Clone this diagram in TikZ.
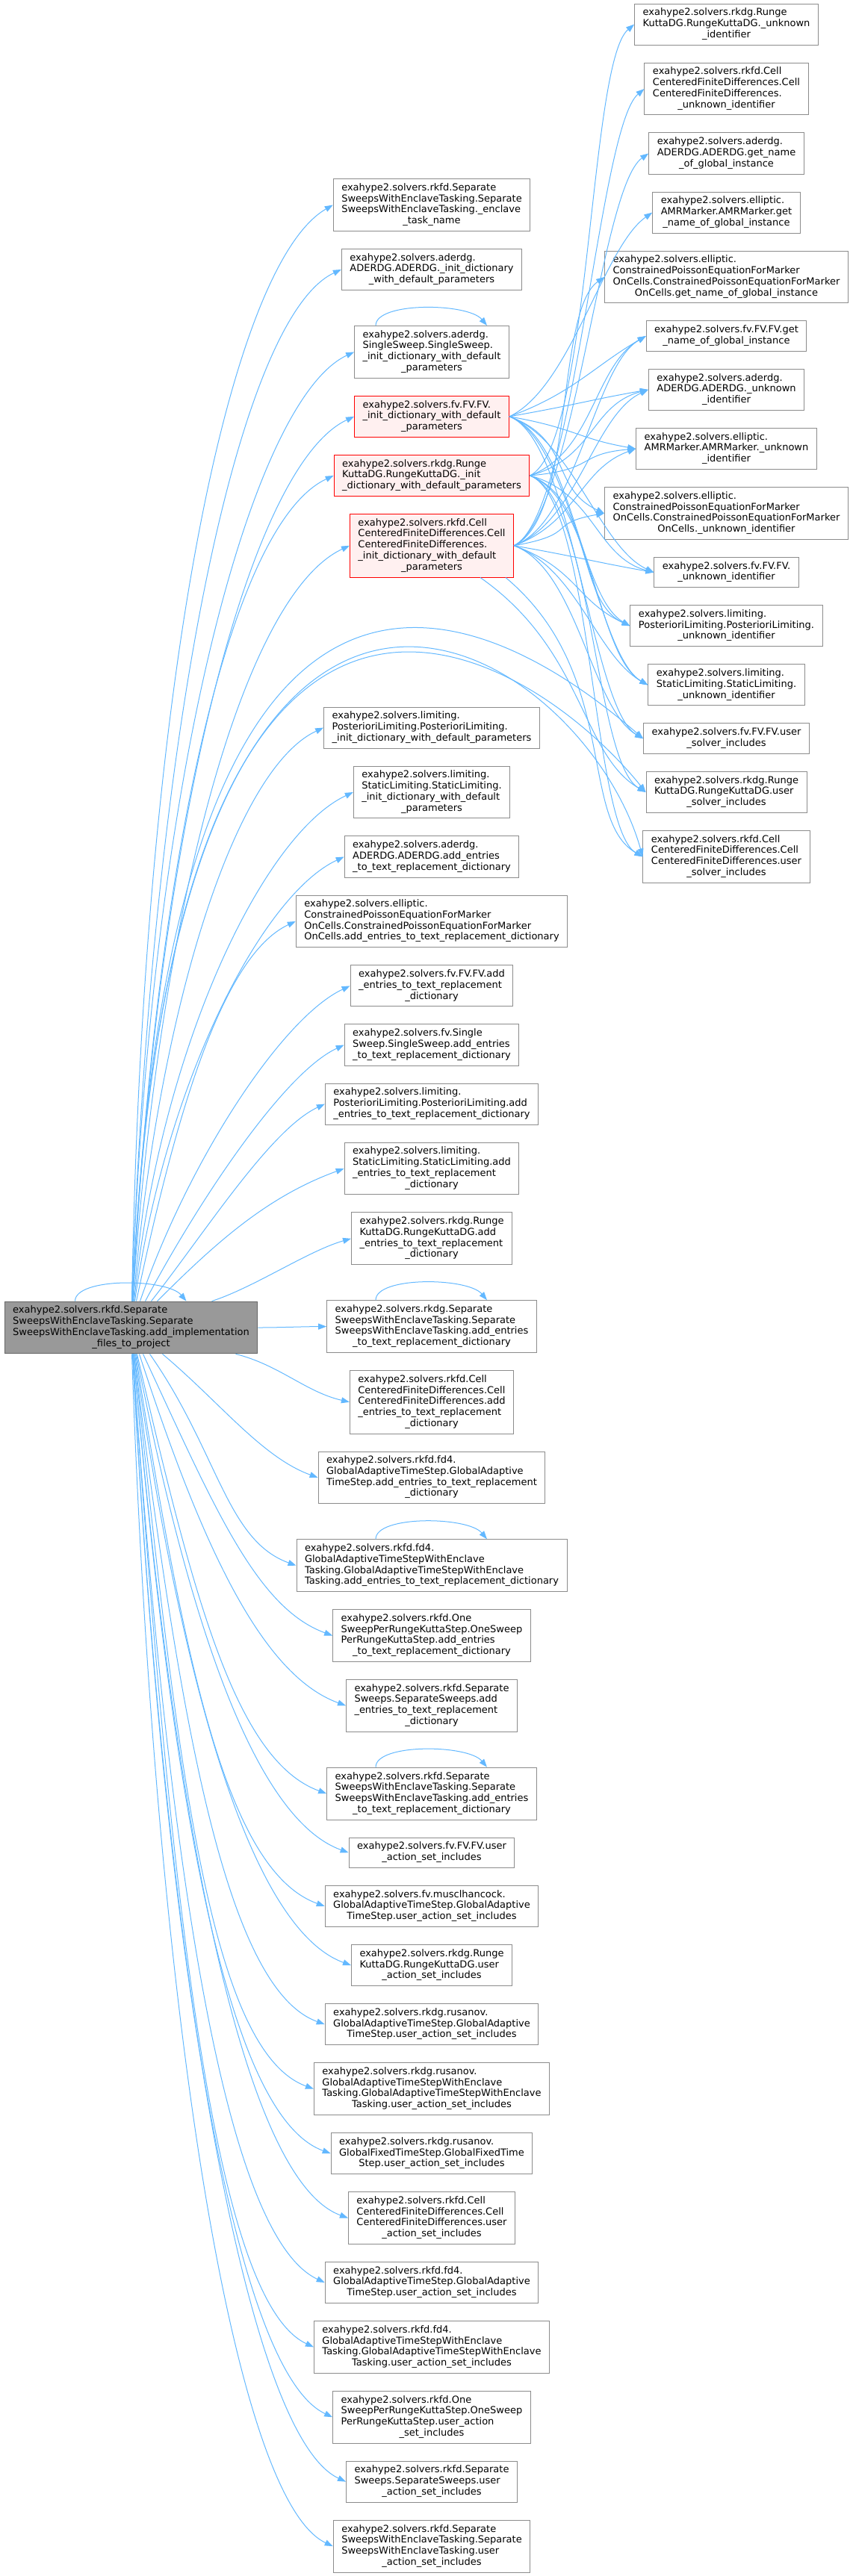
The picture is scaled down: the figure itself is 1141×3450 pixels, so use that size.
\documentclass[tikz,border=0pt]{standalone}
\usepackage{fontspec}
\setmainfont{DejaVu Sans}
\usepackage{tikz}
\usetikzlibrary{arrows.meta,positioning}
\definecolor{edgeblue}{RGB}{99,184,255}
\definecolor{trfill}{RGB}{255,240,240}
\definecolor{rootgray}{RGB}{153,153,153}
\newcommand{\dlbl}[2]{\begin{tabular}{@{}l@{}}#1\\\multicolumn{1}{@{}c@{}}{#2}\end{tabular}}

\begin{document}
\begin{tikzpicture}[x=1pt,y=-1pt,
 font=\fontsize{13}{14.7}\selectfont,
 b/.style={draw=black!45,line width=1pt,fill=white,inner xsep=11pt,inner ysep=0pt},
 tr/.style={b,draw=red,fill=trfill},
 rt/.style={b,draw=black!60,fill=rootgray},
 h2/.style={minimum height=40.4pt},
 h3/.style={minimum height=55.1pt},
 h4/.style={minimum height=69.8pt},
 h5/.style={minimum height=84.5pt},
 ar/.style={-{Triangle[length=11pt,width=8pt]},draw=edgeblue,line width=1pt},
 node distance=23pt]
\useasboundingbox (0,0) rectangle (1141,3450);

\node[rt,h4] (n0) at (175.5,1778) {\dlbl{exahype2.solvers.rkfd.Separate\\SweepsWithEnclaveTasking.Separate\\SweepsWithEnclaveTasking.add\_implementation}{\_files\_to\_project}};

\node[b,h4] (n1) at (578,274.5) {\dlbl{exahype2.solvers.rkfd.Separate\\SweepsWithEnclaveTasking.Separate\\SweepsWithEnclaveTasking.\_enclave}{\_task\_name}};
\node[b,h3,below=of n1] (n2) {\dlbl{exahype2.solvers.aderdg.\\ADERDG.ADERDG.\_init\_dictionary}{\_with\_default\_parameters}};
\node[b,h4,below=47pt of n2] (n3) {\dlbl{exahype2.solvers.aderdg.\\SingleSweep.SingleSweep.\\\_init\_dictionary\_with\_default}{\_parameters}};
\node[tr,h3,below=of n3] (n4) {\dlbl{exahype2.solvers.fv.FV.FV.\\\_init\_dictionary\_with\_default}{\_parameters}};
\node[tr,h3,below=of n4] (n5) {\dlbl{exahype2.solvers.rkdg.Runge\\KuttaDG.RungeKuttaDG.\_init}{\_dictionary\_with\_default\_parameters}};
\node[tr,h5,below=of n5] (n6) {\dlbl{exahype2.solvers.rkfd.Cell\\CenteredFiniteDifferences.Cell\\CenteredFiniteDifferences.\\\_init\_dictionary\_with\_default}{\_parameters}};
\node[b,h3,below=173pt of n6] (n7) {\dlbl{exahype2.solvers.limiting.\\PosterioriLimiting.PosterioriLimiting.}{\_init\_dictionary\_with\_default\_parameters}};
\node[b,h4,below=of n7] (n8) {\dlbl{exahype2.solvers.limiting.\\StaticLimiting.StaticLimiting.\\\_init\_dictionary\_with\_default}{\_parameters}};
\node[b,h3,below=of n8] (n9) {\dlbl{exahype2.solvers.aderdg.\\ADERDG.ADERDG.add\_entries}{\_to\_text\_replacement\_dictionary}};
\node[b,h4,below=of n9] (n10) {\dlbl{exahype2.solvers.elliptic.\\ConstrainedPoissonEquationForMarker\\OnCells.ConstrainedPoissonEquationForMarker}{OnCells.add\_entries\_to\_text\_replacement\_dictionary}};
\node[b,h3,below=of n10] (n11) {\dlbl{exahype2.solvers.fv.FV.FV.add\\\_entries\_to\_text\_replacement}{\_dictionary}};
\node[b,h3,below=of n11] (n12) {\dlbl{exahype2.solvers.fv.Single\\Sweep.SingleSweep.add\_entries}{\_to\_text\_replacement\_dictionary}};
\node[b,h3,below=of n12] (n13) {\dlbl{exahype2.solvers.limiting.\\PosterioriLimiting.PosterioriLimiting.add}{\_entries\_to\_text\_replacement\_dictionary}};
\node[b,h4,below=of n13] (n14) {\dlbl{exahype2.solvers.limiting.\\StaticLimiting.StaticLimiting.add\\\_entries\_to\_text\_replacement}{\_dictionary}};
\node[b,h4,below=of n14] (n15) {\dlbl{exahype2.solvers.rkdg.Runge\\KuttaDG.RungeKuttaDG.add\\\_entries\_to\_text\_replacement}{\_dictionary}};
\node[b,h4,below=47pt of n15] (n16) {\dlbl{exahype2.solvers.rkdg.Separate\\SweepsWithEnclaveTasking.Separate\\SweepsWithEnclaveTasking.add\_entries}{\_to\_text\_replacement\_dictionary}};
\node[b,h5,below=of n16] (n17) {\dlbl{exahype2.solvers.rkfd.Cell\\CenteredFiniteDifferences.Cell\\CenteredFiniteDifferences.add\\\_entries\_to\_text\_replacement}{\_dictionary}};
\node[b,h4,below=of n17] (n18) {\dlbl{exahype2.solvers.rkfd.fd4.\\GlobalAdaptiveTimeStep.GlobalAdaptive\\TimeStep.add\_entries\_to\_text\_replacement}{\_dictionary}};
\node[b,h4,below=47pt of n18] (n19) {\dlbl{exahype2.solvers.rkfd.fd4.\\GlobalAdaptiveTimeStepWithEnclave\\Tasking.GlobalAdaptiveTimeStepWithEnclave}{Tasking.add\_entries\_to\_text\_replacement\_dictionary}};
\node[b,h4,below=of n19] (n20) {\dlbl{exahype2.solvers.rkfd.One\\SweepPerRungeKuttaStep.OneSweep\\PerRungeKuttaStep.add\_entries}{\_to\_text\_replacement\_dictionary}};
\node[b,h4,below=of n20] (n21) {\dlbl{exahype2.solvers.rkfd.Separate\\Sweeps.SeparateSweeps.add\\\_entries\_to\_text\_replacement}{\_dictionary}};
\node[b,h4,below=47pt of n21] (n22) {\dlbl{exahype2.solvers.rkfd.Separate\\SweepsWithEnclaveTasking.Separate\\SweepsWithEnclaveTasking.add\_entries}{\_to\_text\_replacement\_dictionary}};
\node[b,h2,below=of n22] (n23) {\dlbl{exahype2.solvers.fv.FV.FV.user}{\_action\_set\_includes}};
\node[b,h3,below=of n23] (n24) {\dlbl{exahype2.solvers.fv.musclhancock.\\GlobalAdaptiveTimeStep.GlobalAdaptive}{TimeStep.user\_action\_set\_includes}};
\node[b,h3,below=of n24] (n25) {\dlbl{exahype2.solvers.rkdg.Runge\\KuttaDG.RungeKuttaDG.user}{\_action\_set\_includes}};
\node[b,h3,below=of n25] (n26) {\dlbl{exahype2.solvers.rkdg.rusanov.\\GlobalAdaptiveTimeStep.GlobalAdaptive}{TimeStep.user\_action\_set\_includes}};
\node[b,h4,below=of n26] (n27) {\dlbl{exahype2.solvers.rkdg.rusanov.\\GlobalAdaptiveTimeStepWithEnclave\\Tasking.GlobalAdaptiveTimeStepWithEnclave}{Tasking.user\_action\_set\_includes}};
\node[b,h3,below=of n27] (n28) {\dlbl{exahype2.solvers.rkdg.rusanov.\\GlobalFixedTimeStep.GlobalFixedTime}{Step.user\_action\_set\_includes}};
\node[b,h4,below=of n28] (n29) {\dlbl{exahype2.solvers.rkfd.Cell\\CenteredFiniteDifferences.Cell\\CenteredFiniteDifferences.user}{\_action\_set\_includes}};
\node[b,h3,below=of n29] (n30) {\dlbl{exahype2.solvers.rkfd.fd4.\\GlobalAdaptiveTimeStep.GlobalAdaptive}{TimeStep.user\_action\_set\_includes}};
\node[b,h4,below=of n30] (n31) {\dlbl{exahype2.solvers.rkfd.fd4.\\GlobalAdaptiveTimeStepWithEnclave\\Tasking.GlobalAdaptiveTimeStepWithEnclave}{Tasking.user\_action\_set\_includes}};
\node[b,h4,below=of n31] (n32) {\dlbl{exahype2.solvers.rkfd.One\\SweepPerRungeKuttaStep.OneSweep\\PerRungeKuttaStep.user\_action}{\_set\_includes}};
\node[b,h3,below=of n32] (n33) {\dlbl{exahype2.solvers.rkfd.Separate\\Sweeps.SeparateSweeps.user}{\_action\_set\_includes}};
\node[b,h4,below=of n33] (n34) {\dlbl{exahype2.solvers.rkfd.Separate\\SweepsWithEnclaveTasking.Separate\\SweepsWithEnclaveTasking.user}{\_action\_set\_includes}};

\node[b,h3] (r1) at (972.5,32.6) {\dlbl{exahype2.solvers.rkdg.Runge\\KuttaDG.RungeKuttaDG.\_unknown}{\_identifier}};
\node[b,h4,below=of r1] (r2) {\dlbl{exahype2.solvers.rkfd.Cell\\CenteredFiniteDifferences.Cell\\CenteredFiniteDifferences.}{\_unknown\_identifier}};
\node[b,h3,below=of r2] (r3) {\dlbl{exahype2.solvers.aderdg.\\ADERDG.ADERDG.get\_name}{\_of\_global\_instance}};
\node[b,h3,below=of r3] (r4) {\dlbl{exahype2.solvers.elliptic.\\AMRMarker.AMRMarker.get}{\_name\_of\_global\_instance}};
\node[b,h4,below=of r4] (r5) {\dlbl{exahype2.solvers.elliptic.\\ConstrainedPoissonEquationForMarker\\OnCells.ConstrainedPoissonEquationForMarker}{OnCells.get\_name\_of\_global\_instance}};
\node[b,h2,below=of r5] (r6) {\dlbl{exahype2.solvers.fv.FV.FV.get}{\_name\_of\_global\_instance}};
\node[b,h3,below=of r6] (r7) {\dlbl{exahype2.solvers.aderdg.\\ADERDG.ADERDG.\_unknown}{\_identifier}};
\node[b,h3,below=of r7] (r8) {\dlbl{exahype2.solvers.elliptic.\\AMRMarker.AMRMarker.\_unknown}{\_identifier}};
\node[b,h4,below=of r8] (r9) {\dlbl{exahype2.solvers.elliptic.\\ConstrainedPoissonEquationForMarker\\OnCells.ConstrainedPoissonEquationForMarker}{OnCells.\_unknown\_identifier}};
\node[b,h2,below=of r9] (r10) {\dlbl{exahype2.solvers.fv.FV.FV.}{\_unknown\_identifier}};
\node[b,h3,below=of r10] (r11) {\dlbl{exahype2.solvers.limiting.\\PosterioriLimiting.PosterioriLimiting.}{\_unknown\_identifier}};
\node[b,h3,below=of r11] (r12) {\dlbl{exahype2.solvers.limiting.\\StaticLimiting.StaticLimiting.}{\_unknown\_identifier}};
\node[b,h2,below=of r12] (r13) {\dlbl{exahype2.solvers.fv.FV.FV.user}{\_solver\_includes}};
\node[b,h3,below=of r13] (r14) {\dlbl{exahype2.solvers.rkdg.Runge\\KuttaDG.RungeKuttaDG.user}{\_solver\_includes}};
\node[b,h4,below=of r14] (r15) {\dlbl{exahype2.solvers.rkfd.Cell\\CenteredFiniteDifferences.Cell\\CenteredFiniteDifferences.user}{\_solver\_includes}};

\foreach \lp in {n0,n3,n16,n19,n22}
 \draw[ar] ([xshift=-75pt]\lp.north) .. controls +(90:32pt) and +(130:40pt) .. ([xshift=74pt]\lp.north);

\foreach \tg/\sa/\xs/\oa/\od/\ia/\idist in {
 n1/north/1pt/89/830pt/210/160pt, n2/north/1pt/88/780pt/205/150pt, n3/north/1pt/88/710pt/205/150pt,
 n4/north/2pt/87/660pt/205/150pt, n5/north/2pt/87/610pt/205/150pt, n6/north/2pt/86/560pt/205/150pt,
 n7/north/3pt/85/400pt/205/130pt, n8/north/4pt/84/350pt/205/130pt, n9/north/5pt/82/300pt/205/120pt,
 n10/north/7pt/78/250pt/205/110pt, n11/north/12pt/71/200pt/205/100pt, n12/north/19pt/62/150pt/205/90pt,
 n13/north/27pt/52/120pt/205/80pt, n14/north/35pt/45/110pt/200/110pt, n15/north/108pt/18/60pt/196/60pt,
 n16/east/0pt/0/30pt/180/30pt, n17/south/140pt/-14/60pt/167/60pt, n18/south/42pt/-40/100pt/160/80pt,
 n19/south/25pt/-55/160pt/160/100pt, n20/south/16pt/-65/220pt/160/110pt, n21/south/11pt/-72/270pt/160/120pt,
 n22/south/8pt/-77/330pt/160/130pt, n23/south/7pt/-79/380pt/160/130pt, n24/south/6pt/-81/420pt/160/140pt,
 n25/south/5pt/-82/460pt/160/140pt, n26/south/4pt/-83/500pt/160/140pt, n27/south/4pt/-84/540pt/160/150pt,
 n28/south/3pt/-85/590pt/160/150pt, n29/south/3pt/-85/630pt/160/150pt, n30/south/2pt/-86/680pt/155/150pt,
 n31/south/2pt/-86/720pt/155/150pt, n32/south/2pt/-87/770pt/155/150pt, n33/south/2pt/-87/810pt/155/150pt,
 n34/south/1pt/-88/860pt/155/150pt}
 \draw[ar] ([xshift=\xs]n0.\sa) .. controls +(\oa:\od) and +(\ia:\idist) .. (\tg.west);

\draw[ar] ([xshift=2pt]n0.north) .. controls (230,520) and (700,850) .. (r13.west);
\draw[ar] ([xshift=2pt]n0.north) .. controls (230,540) and (720,880) .. (r14.west);
\draw[ar] ([xshift=2pt]n0.north) .. controls (230,500) and (780,860) .. (r15.west);

\foreach \src/\dst/\oa/\ia in {
 n4/r4/25/215, n4/r6/20/210, n4/r7/10/190, n4/r8/-10/170, n4/r9/-20/155, n4/r10/-20/155,
 n4/r11/-20/150, n4/r12/-20/150, n4/r13/-20/150,
 n5/r1/25/220, n5/r6/20/210, n5/r7/15/195, n5/r8/5/185, n5/r10/-15/165, n5/r11/-20/155,
 n5/r12/-20/150, n5/r14/-20/150, n5/r15/-20/150,
 n6/r2/25/220, n6/r3/25/215, n6/r5/25/215, n6/r6/20/210, n6/r7/20/205, n6/r8/20/200,
 n6/r9/10/190, n6/r10/-10/170, n6/r11/-20/155, n6/r12/-20/150, n6/r13/-20/150}
 \draw[ar] (\src.east) .. controls +(\oa:90pt) and +(\ia:80pt) .. (\dst.west);
\draw[ar] ([xshift=65pt]n6.south) .. controls +(-35:170pt) and +(150:100pt) .. (r14.west);
\draw[ar] ([xshift=99pt]n6.south) .. controls +(-40:200pt) and +(150:100pt) .. (r15.west);
\end{tikzpicture}
\end{document}
